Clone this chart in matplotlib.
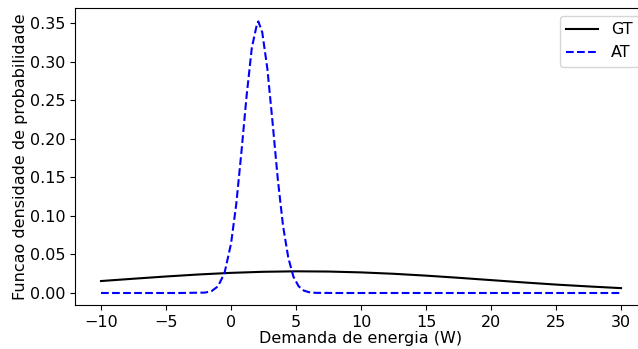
import matplotlib.pyplot as plt

# GT curve
gtX = [-10, -7.5, -5, -2.5, 0, 2.5, 5, 7.5, 10, 12.5, 15, 17.5, 20, 22.5, 25, 27.5, 30]
gtY = [0.0155, 0.0185, 0.0214, 0.0240, 0.0261, 0.0275, 0.0281, 0.0278, 0.0267,
       0.0249, 0.0225, 0.0197, 0.0167, 0.0137, 0.0109, 0.0085, 0.0063]

# AT curve
atX = [-10, -4, -2, -1.5, -1, -0.5, 0, 0.4, 0.8, 1.2, 1.6, 2.0, 2.1, 2.4, 2.8,
       3.2, 3.6, 4.0, 4.4, 4.8, 5.2, 5.6, 6.0, 6.5, 8, 30]
atY = [0.0, 0.0, 0.0005, 0.0024, 0.0087, 0.026, 0.064, 0.115, 0.183, 0.256, 0.318,
       0.349, 0.352, 0.338, 0.290, 0.220, 0.147, 0.087, 0.046, 0.021, 0.0087,
       0.0031, 0.0010, 0.0002, 0.0, 0.0]

fs = 11.5
fig = plt.figure(figsize=(6.38, 3.49), dpi=100)
ax = fig.add_axes([0.1176, 0.126, 0.8966, 0.851])
ax.plot(gtX, gtY, color='black', linewidth=1.5, label='GT')
ax.plot(atX, atY, color='blue', linestyle='--', linewidth=1.5, label='AT')
ax.set_xlim(-12, 32)
ax.set_ylim(-0.0156, 0.3694)
ax.set_xticks([-10, -5, 0, 5, 10, 15, 20, 25, 30])
ax.set_yticks([0.0, 0.05, 0.10, 0.15, 0.20, 0.25, 0.30, 0.35])
ax.tick_params(labelsize=fs)
ax.set_xlabel('Demanda de energia (W)', fontsize=fs, labelpad=1)
ax.set_ylabel('Funcao densidade de probabilidade', fontsize=fs, labelpad=1)
ax.legend(loc='upper right', fontsize=fs)
fig.savefig('out.png', dpi=100)
